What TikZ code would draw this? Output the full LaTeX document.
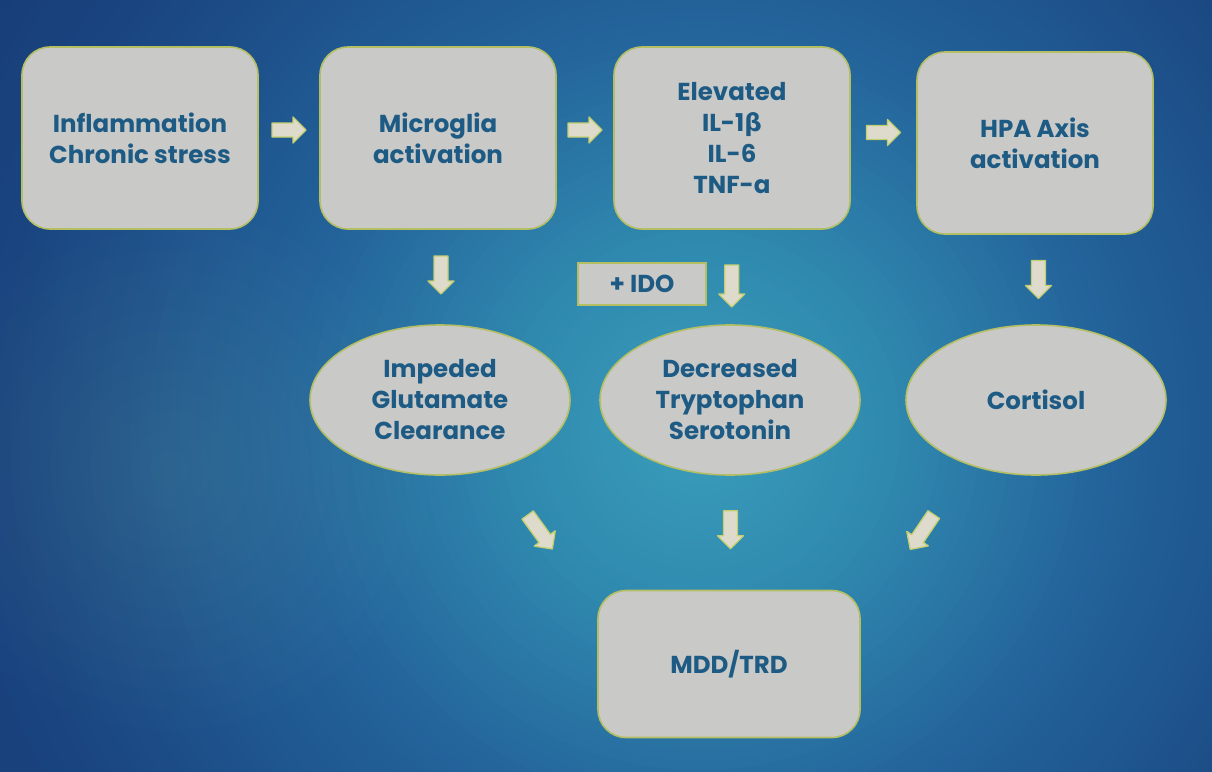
\documentclass[tikz,border=0pt]{standalone}
\usepackage{fontspec}
\setmainfont{Poppins}
\newfontfamily\grk{DejaVu Sans}
\usetikzlibrary{shapes.geometric,calc}
\definecolor{bgA}{HTML}{3A9EBB}
\definecolor{bgB}{HTML}{2F88AE}
\definecolor{bgC}{HTML}{23629A}
\definecolor{bgD}{HTML}{1A4580}
\definecolor{bgE}{HTML}{173A75}
\definecolor{boxfill}{HTML}{C9C9C7}
\definecolor{boxedge}{HTML}{B4BE62}
\definecolor{txt}{HTML}{1E5B84}
\definecolor{arrfill}{HTML}{DEDBCD}
\definecolor{arredge}{HTML}{C6CF6E}
\tikzset{
  lbl/.style={text=txt, font=\bfseries\fontsize{24.5}{31}\selectfont, align=center},
  box/.style={lbl, draw=boxedge, line width=1.6pt, fill=boxfill, rounded corners=28pt, minimum width=236pt, minimum height=182pt, inner sep=0pt},
  bottombox/.style={box, minimum width=262pt, minimum height=147pt},
  oval/.style={lbl, ellipse, draw=boxedge, line width=1.6pt, fill=boxfill, minimum width=260pt, minimum height=150pt, inner sep=0pt},
  idobox/.style={lbl, draw=boxedge, line width=1.6pt, fill=boxfill, minimum width=128pt, minimum height=42pt, inner sep=0pt},
  blkline/.style={draw=arredge, fill=arrfill, line width=1.3pt, line join=round},
  pics/blockarrow/.style={code={
    \path[blkline] (-#1,-7) -- (#1-13,-7) -- (#1-13,-13) -- (#1,0) -- (#1-13,13) -- (#1-13,7) -- (-#1,7) -- cycle;
  }}
}
\begin{document}
\begin{tikzpicture}[x=1pt,y=-1pt]
\useasboundingbox (0,0) rectangle (1212,771);
\begin{scope}
\clip (0,0) rectangle (1212,771);
\fill[bgE] (0,0) rectangle (1212,771);
\coordinate (bgc) at (700,430);
\foreach \r in {900,890,...,700}{\pgfmathsetmacro\p{(\r-700)/200*100}\fill[bgE!\p!bgD] (bgc) circle (\r);}
\foreach \r in {690,680,...,420}{\pgfmathsetmacro\p{(\r-420)/280*100}\fill[bgD!\p!bgC] (bgc) circle (\r);}
\foreach \r in {410,400,...,200}{\pgfmathsetmacro\p{(\r-200)/220*100}\fill[bgC!\p!bgB] (bgc) circle (\r);}
\foreach \r in {195,190,...,5}{\pgfmathsetmacro\p{\r/200*100}\fill[bgB!\p!bgA] (bgc) circle (\r);}
\coordinate (glow) at (170,470);
\foreach \r in {260,240,...,20}{\fill[white, opacity=0.007] (glow) circle (\r);}
\end{scope}
% top row
\node[box] (b1) at (140,138) {Inflammation\\Chronic stress};
\node[box] (b2) at (438,138) {Microglia\\activation};
\node[box] (b3) at (732,138) {Elevated\\IL-1{\grk β}\\IL-6\\TNF-a};
\node[box] (b4) at (1035,143) {HPA Axis\\activation};
% ovals
\node[oval] (e1) at (440,400) {Impeded\\Glutamate\\Clearance};
\node[oval] (e2) at (730,400) {Decreased\\Tryptophan\\Serotonin};
\node[oval] (e3) at (1036,400) {Cortisol};
\node[idobox] (ido) at (642,284) {+ IDO};
% bottom
\node[bottombox] (b5) at (729,664) {MDD/TRD};
% horizontal arrows
\coordinate (a12) at ($(b1.east)!0.5!(b2.west)+(0,-8)$);
\coordinate (a23) at ($(b2.east)!0.5!(b3.west)+(0,-8)$);
\coordinate (a34) at ($(b3.east)!0.5!(b4.west)+(0,-8)$);
\pic at (a12) {blockarrow=17};
\pic at (a23) {blockarrow=17};
\pic at (a34) {blockarrow=17};
% down arrows
\coordinate (d1) at ($(b2.south)!0.5!(e1.north)+(2,-2)$);
\coordinate (d2) at ($(ido.east)+(25,2)$);
\coordinate (d3) at ($(b4.south)!0.5!(e3.north)+(3,0)$);
\pic[rotate=-90] at (d1) {blockarrow=19};
\pic[rotate=-90] at (d2) {blockarrow=21};
\pic[rotate=-90] at (d3) {blockarrow=19};
% bottom arrows
\coordinate (f1) at (540,532);
\coordinate (f2) at ($(e2.south)!0.5!(b5.north)+(1,-3)$);
\coordinate (f3) at (922,532);
\pic[rotate=-54] at (f1) {blockarrow=21};
\pic[rotate=-90] at (f2) {blockarrow=19};
\pic[rotate=-124] at (f3) {blockarrow=21};
\end{tikzpicture}
\end{document}
